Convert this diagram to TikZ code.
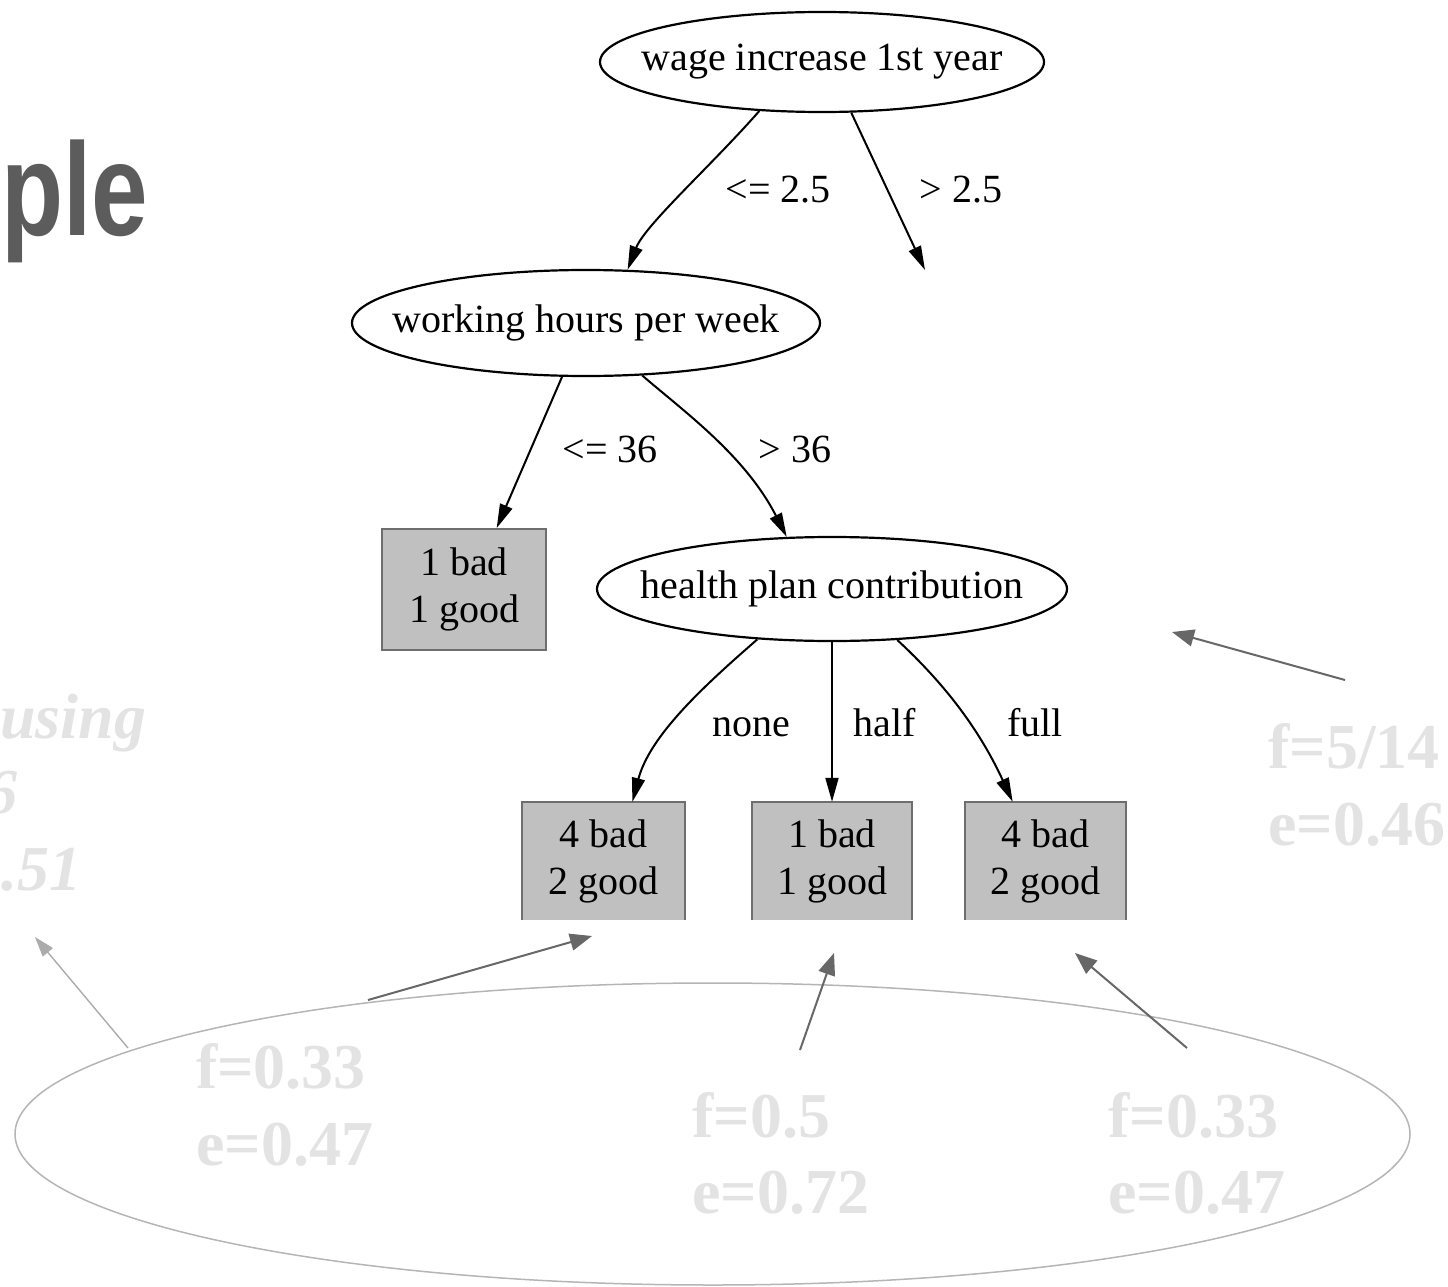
\documentclass[tikz,border=0pt]{standalone}
\usepackage{fontspec}
\setmainfont{Liberation Serif}
\newfontfamily\headfont{Liberation Sans}[FakeStretch=0.77]
\usetikzlibrary{arrows.meta,shapes.geometric}

\definecolor{headgray}{HTML}{5C5C5C}
\definecolor{fadetext}{HTML}{E3E3E3}
\definecolor{notearrow}{HTML}{676767}
\definecolor{lightarrow}{HTML}{ABABAB}
\definecolor{ringgray}{HTML}{B5B5B5}
\definecolor{leaffill}{HTML}{C0C0C0}
\definecolor{leafedge}{HTML}{6E6E6E}

\tikzset{
  treetext/.style={font=\fontsize{40}{47}\selectfont, text=black},
  decision/.style={ellipse, draw=black, line width=2.2pt, inner sep=0pt, treetext},
  leaf/.style={rectangle, fill=leaffill, inner sep=0pt, align=center, treetext},
  branch/.style={line width=2pt, -{Triangle[length=24pt,width=13pt]}},
  cond/.style={treetext, anchor=base, inner sep=0pt},
  fadenote/.style={font=\fontsize{64}{77}\selectfont\bfseries, text=fadetext, anchor=base west, inner sep=0pt},
  pointer/.style={line width=2pt, color=notearrow, -{Triangle[length=22pt,width=17pt]}},
  softpointer/.style={line width=1.4pt, color=lightarrow, -{Triangle[length=20pt,width=13pt]}},
}

\begin{document}
\begin{tikzpicture}[x=1pt,y=-1pt]
\useasboundingbox (0,0) rectangle (1448,1287);
\begin{scope}
\clip (0,0) rectangle (1448,1287);

% slide heading fragment
\node[anchor=base west, inner sep=0pt, text=headgray,
      font=\headfont\bfseries\fontsize{132}{140}\selectfont] (title) at (1,235) {ple};

% faded side notes
\node[fadenote, font=\fontsize{64}{77}\selectfont\bfseries\itshape] (nusing) at (0,738) {using};
\node[fadenote, font=\fontsize{64}{77}\selectfont\bfseries\itshape] (nsix) at (-15,813) {6};
\node[fadenote, font=\fontsize{64}{77}\selectfont\bfseries\itshape] (nfive) at (-31,890) {0.51};
\node[fadenote] (rf) at (1268,768) {f=5/14};
\node[fadenote] (re) at (1268,845) {e=0.46};

% decision tree
\node[decision, minimum width=444pt, minimum height=100pt] (root) at (822,62)
  {\makebox[0pt]{wage increase 1st year}};
\node[decision, minimum width=468pt, minimum height=106pt] (wh) at (586,323)
  {\makebox[0pt]{working hours per week}};
\node[decision, minimum width=470pt, minimum height=104pt] (hp) at (832,589)
  {\makebox[0pt]{health plan contribution}};

\node[leaf, draw=leafedge, line width=2pt, minimum width=164pt, minimum height=121pt] (la) at (464,589.5)
  {1 bad\\1 good};
\node[leaf, minimum width=163pt, minimum height=118pt] (lb) at (603.5,861) {4 bad\\2 good};
\node[leaf, minimum width=160pt, minimum height=118pt] (lc) at (832,861) {1 bad\\1 good};
\node[leaf, minimum width=161pt, minimum height=118pt] (ld) at (1045.5,861) {4 bad\\2 good};
\foreach \b in {lb,lc,ld}
  \draw[leafedge, line width=2pt] (\b.south west) -- (\b.north west) -- (\b.north east) -- (\b.south east);

\coordinate (gtend) at (925,270);

\draw[branch] (root.-142) .. controls (712,165) and (645,225) .. (wh.52);
\draw[branch] (root.-60) -- (gtend);
\draw[branch] (wh.-114) -- (la.62);
\draw[branch] (wh.-43) .. controls (682,410) and (745,455) .. (hp.131);
\draw[branch] (hp.-146) .. controls (705,685) and (650,735) .. (lb.64);
\draw[branch] (hp.south) -- (lc.north);
\draw[branch] (hp.-38) .. controls (935,675) and (975,720) .. (ld.119);

\node[cond] (c1) at (778,202) {<= 2.5};
\node[cond] (c2) at (961,202) {> 2.5};
\node[cond] (c3) at (610,462) {<= 36};
\node[cond] (c4) at (795,462) {> 36};
\node[cond] (c5) at (751,736) {none};
\node[cond] (c6) at (885,736) {half};
\node[cond] (c7) at (1035,736) {full};

% weighted entropy annotations
\node[ellipse, draw=ringgray, line width=1.5pt, minimum width=1395pt, minimum height=302pt, inner sep=0pt]
  (ring) at (712.5,1134) {};
\node[fadenote] (fa) at (196,1088) {f=0.33};
\node[fadenote] (ea) at (196,1165) {e=0.47};
\node[fadenote] (fb) at (692,1137) {f=0.5};
\node[fadenote] (eb) at (692,1213) {e=0.72};
\node[fadenote] (fc) at (1108,1137) {f=0.33};
\node[fadenote] (ec) at (1108,1213) {e=0.47};

\coordinate (p1s) at (1345,680);  \coordinate (p1e) at (1172,632);
\coordinate (p2s) at (128,1048);  \coordinate (p2e) at (35,937);
\coordinate (p3s) at (368,1000);  \coordinate (p3e) at (592,936);
\coordinate (p4s) at (800,1050);  \coordinate (p4e) at (834,953);
\coordinate (p5s) at (1187,1048); \coordinate (p5e) at (1075,953);

\draw[pointer] (p1s) -- (p1e);
\draw[softpointer] (p2s) -- (p2e);
\draw[pointer] (p3s) -- (p3e);
\draw[pointer] (p4s) -- (p4e);
\draw[pointer] (p5s) -- (p5e);
\end{scope}
\end{tikzpicture}
\end{document}
